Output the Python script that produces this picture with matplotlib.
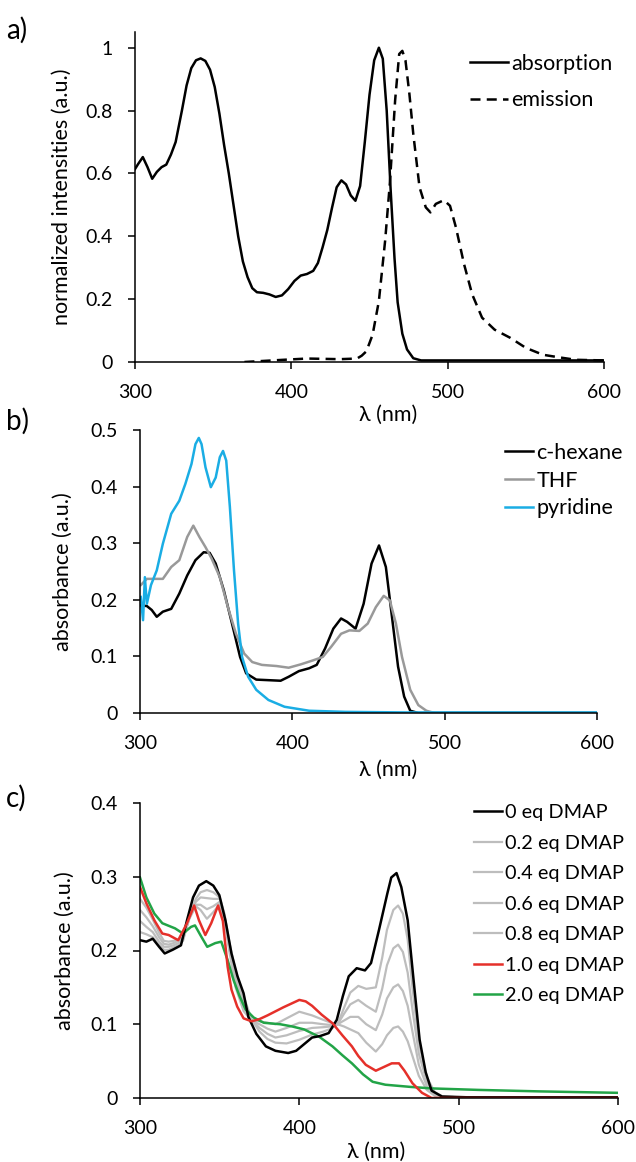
import matplotlib
matplotlib.use("Agg")
import matplotlib.pyplot as plt
from matplotlib.ticker import FuncFormatter

plt.rcParams['font.family'] = ['Lato', 'DejaVu Sans']

# ---- panel a: normalized absorption / emission ----
abs_wl = [300, 302, 305, 308, 311, 314, 317, 320, 323, 326, 330, 333, 336, 339, 342, 345,
          348, 351, 354, 357, 360, 363, 366, 369, 372, 375, 378, 382, 386, 390, 394, 398,
          402, 406, 410, 414, 417, 420, 423, 426, 429, 432, 435, 438, 441, 444, 447, 450,
          453, 456, 458.5, 461, 463.5, 466, 468, 471, 474, 478, 483, 600]
abs_val = [0.614, 0.63, 0.652, 0.62, 0.583, 0.605, 0.62, 0.628, 0.66, 0.70, 0.80, 0.88,
           0.935, 0.96, 0.966, 0.958, 0.93, 0.875, 0.79, 0.69, 0.60, 0.50, 0.40, 0.32,
           0.27, 0.235, 0.222, 0.22, 0.215, 0.207, 0.212, 0.232, 0.258, 0.275, 0.28, 0.29,
           0.315, 0.365, 0.42, 0.49, 0.556, 0.578, 0.565, 0.53, 0.513, 0.56, 0.70, 0.85,
           0.96, 1.0, 0.965, 0.80, 0.55, 0.33, 0.19, 0.09, 0.04, 0.012, 0.005, 0.005]

em_wl = [370, 395, 410, 431, 442, 445, 448, 452, 456, 460, 463, 466.4, 469, 471, 473,
         475.5, 478, 482, 486, 489, 492.4, 497.6, 501.5, 505.3, 510.5, 515.7, 522, 530,
         540, 550, 561, 571, 582, 600]
em_val = [0.0, 0.007, 0.011, 0.009, 0.011, 0.02, 0.034, 0.087, 0.194, 0.386, 0.567, 0.833,
          0.98, 0.99, 0.96, 0.854, 0.726, 0.556, 0.492, 0.476, 0.503, 0.515, 0.497, 0.428,
          0.311, 0.215, 0.141, 0.103, 0.077, 0.045, 0.023, 0.015, 0.007, 0.005]

# ---- panel b: solvents ----
hex_wl = [300.5, 304.5, 307.7, 311, 315, 320.5, 325.8, 331, 336.4, 341.8, 345.7, 349.7,
          355, 360.4, 365.7, 369.7, 376.3, 384.3, 392.3, 397.6, 404.3, 411, 416, 421.5,
          426.9, 432, 436, 441.5, 446.8, 452, 456.9, 461.4, 465.4, 469.4, 473.4, 477.4,
          482.7, 600]
hex_val = [0.19, 0.189, 0.182, 0.17, 0.179, 0.184, 0.211, 0.243, 0.27, 0.284, 0.283, 0.264,
           0.217, 0.158, 0.099, 0.07, 0.059, 0.058, 0.057, 0.064, 0.074, 0.079, 0.085, 0.114,
           0.149, 0.167, 0.161, 0.149, 0.193, 0.264, 0.296, 0.258, 0.17, 0.082, 0.029, 0.004,
           0.0, 0.0]

thf_wl = [300.5, 304.5, 309.8, 315, 320.5, 325.8, 331, 335, 339, 343, 347, 352.4, 357.7,
          363, 368.4, 373.7, 380, 389.6, 397.6, 405.6, 413.6, 420, 425.5, 432, 437.5, 444,
          449.5, 454.8, 460, 464, 468, 472, 477.4, 482.7, 488, 493.4, 600]
thf_val = [0.226, 0.237, 0.237, 0.237, 0.258, 0.27, 0.311, 0.331, 0.311, 0.293, 0.273, 0.24,
           0.187, 0.14, 0.105, 0.09, 0.085, 0.083, 0.08, 0.086, 0.093, 0.099, 0.117, 0.14,
           0.146, 0.145, 0.158, 0.187, 0.207, 0.199, 0.158, 0.099, 0.041, 0.014, 0.004, 0.0,
           0.0]

pyr_wl = [300.5, 302, 303.2, 304.5, 307.2, 311, 315, 320.5, 325.8, 329.8, 333.8, 336.4,
          338.6, 340.4, 343, 346.5, 349.7, 352.4, 354.5, 356.6, 359, 361.7, 364.4, 367, 371,
          376.3, 384.3, 394.9, 411, 434.8, 474.7, 600]
pyr_val = [0.205, 0.164, 0.24, 0.193, 0.226, 0.252, 0.299, 0.352, 0.375, 0.405, 0.44, 0.475,
           0.486, 0.475, 0.434, 0.399, 0.416, 0.452, 0.463, 0.446, 0.364, 0.252, 0.158,
           0.099, 0.064, 0.041, 0.023, 0.011, 0.004, 0.002, 0.001, 0.001]

# ---- panel c: DMAP titration ----
eq0_wl = [300, 304, 308, 312, 315.5, 320.5, 325.7, 329.5, 333.3, 337, 341.6, 346, 349.8,
          353.6, 357.4, 361.2, 365, 368, 373, 379, 385, 393, 398, 403, 408, 413, 418.4,
          423.5, 427.3, 431, 436, 441.2, 445, 450, 455.2, 457.7, 461, 464, 468, 471.7,
          475.5, 479.3, 483, 489.5, 505, 600]
eq0_val = [0.214, 0.212, 0.216, 0.205, 0.196, 0.201, 0.207, 0.241, 0.272, 0.288, 0.294,
           0.288, 0.275, 0.241, 0.196, 0.165, 0.142, 0.11, 0.087, 0.07, 0.064, 0.061, 0.064,
           0.073, 0.082, 0.084, 0.088, 0.106, 0.138, 0.165, 0.176, 0.173, 0.183, 0.228,
           0.277, 0.299, 0.305, 0.286, 0.241, 0.16, 0.079, 0.035, 0.01, 0.002, 0.001, 0.001]

grid_wl = [300, 304, 308, 312, 315, 318, 321, 324, 327, 331, 335, 338, 342, 346, 350, 353,
           356, 360, 365, 370, 375, 380, 385, 392, 400, 408, 415, 420, 424, 428, 432, 437,
           442, 448, 452, 455, 459, 462, 465, 468, 471, 475, 480, 485, 490, 500, 600]
eq02_val = [0.225, 0.222, 0.218, 0.208, 0.201, 0.201, 0.204, 0.207, 0.213, 0.245, 0.270,
            0.279, 0.282, 0.279, 0.272, 0.250, 0.212, 0.172, 0.138, 0.107, 0.090, 0.080,
            0.075, 0.074, 0.079, 0.086, 0.090, 0.094, 0.100, 0.122, 0.143, 0.152, 0.148,
            0.150, 0.190, 0.228, 0.255, 0.261, 0.250, 0.215, 0.150, 0.075, 0.028, 0.008,
            0.002, 0.001, 0.001]
eq04_val = [0.240, 0.232, 0.225, 0.212, 0.205, 0.205, 0.207, 0.210, 0.215, 0.245, 0.266,
            0.272, 0.271, 0.270, 0.270, 0.247, 0.208, 0.165, 0.130, 0.106, 0.095, 0.087,
            0.082, 0.085, 0.091, 0.095, 0.096, 0.097, 0.100, 0.114, 0.127, 0.133, 0.125,
            0.117, 0.148, 0.180, 0.203, 0.208, 0.198, 0.170, 0.120, 0.060, 0.022, 0.006,
            0.002, 0.001, 0.001]
eq06_val = [0.255, 0.245, 0.233, 0.218, 0.209, 0.208, 0.210, 0.213, 0.216, 0.245, 0.262,
            0.262, 0.256, 0.260, 0.266, 0.244, 0.204, 0.158, 0.124, 0.105, 0.100, 0.094,
            0.090, 0.095, 0.102, 0.102, 0.100, 0.099, 0.100, 0.105, 0.110, 0.110, 0.100,
            0.092, 0.113, 0.135, 0.150, 0.154, 0.145, 0.125, 0.090, 0.045, 0.016, 0.004,
            0.001, 0.001, 0.001]
eq08_val = [0.270, 0.258, 0.242, 0.224, 0.213, 0.212, 0.213, 0.215, 0.217, 0.243, 0.260,
            0.255, 0.243, 0.252, 0.263, 0.242, 0.200, 0.150, 0.118, 0.105, 0.104, 0.102,
            0.100, 0.108, 0.117, 0.112, 0.106, 0.102, 0.100, 0.097, 0.093, 0.088, 0.075,
            0.063, 0.073, 0.085, 0.095, 0.097, 0.090, 0.077, 0.057, 0.030, 0.011, 0.003,
            0.001, 0.001, 0.001]

eq10_wl = [300, 304, 309, 314, 318, 324, 329.5, 334, 337, 341, 344.7, 349, 352, 355, 357.4,
           361, 365, 370, 375, 380, 390, 400, 404, 408, 414, 421, 427, 433, 437, 441.7, 448,
           453, 458, 462.5, 466, 471, 477, 483, 600]
eq10_val = [0.286, 0.264, 0.241, 0.223, 0.221, 0.214, 0.237, 0.261, 0.241, 0.221, 0.237,
            0.261, 0.24, 0.178, 0.147, 0.124, 0.108, 0.104, 0.107, 0.112, 0.123, 0.133,
            0.131, 0.125, 0.113, 0.101, 0.085, 0.07, 0.057, 0.045, 0.037, 0.042, 0.047,
            0.047, 0.037, 0.02, 0.007, 0.0, 0.0]

eq20_wl = [300, 304, 309, 314, 322, 327, 332, 334.5, 338.4, 342.2, 347.2, 351, 355, 358.7,
           362.5, 366.3, 371.4, 377.7, 388, 395.5, 403, 412.5, 420.8, 427, 433, 440, 446,
           454, 470, 483, 512, 550, 600]
eq20_val = [0.299, 0.272, 0.25, 0.237, 0.23, 0.223, 0.232, 0.234, 0.219, 0.205, 0.21, 0.212,
            0.187, 0.16, 0.138, 0.12, 0.109, 0.102, 0.1, 0.097, 0.093, 0.083, 0.07, 0.058,
            0.047, 0.032, 0.022, 0.018, 0.015, 0.013, 0.011, 0.009, 0.007]

W, H = 636, 1162
fig = plt.figure(figsize=(W / 100, H / 100), dpi=100)

def box(l, r, top, bot):
    # pixel edges -> figure fraction
    return [l / W, 1 - bot / H, (r - l) / W, (bot - top) / H]

tfs = 14     # tick labels
lfs = 15.5   # axis labels / legend
gfmt = FuncFormatter(lambda v, p: '%g' % round(v, 2))

def style(ax, ymax, yticks, ylabel, ylab_x, xlab_xy):
    ax.patch.set_visible(False)
    ax.set_xlim(300, 600)
    ax.set_ylim(0, ymax)
    ax.set_xticks([300, 400, 500, 600])
    ax.set_yticks(yticks)
    ax.yaxis.set_major_formatter(gfmt)
    for s in ['top', 'right']:
        ax.spines[s].set_visible(False)
    for s in ['left', 'bottom']:
        ax.spines[s].set_linewidth(1.1)
    ax.tick_params(direction='out', length=5, width=1.1, pad=11, labelsize=tfs)
    ax.set_ylabel(ylabel, fontsize=lfs)
    ax.yaxis.set_label_coords(ylab_x, 0.5)
    ax.set_xlabel('λ (nm)', fontsize=lfs)
    ax.xaxis.set_label_coords(*xlab_xy)

leg_kw = dict(loc='upper left', frameon=False, handletextpad=0.15,
              borderpad=0, borderaxespad=0)

# a)
ax1 = fig.add_axes(box(135, 604, 32, 362))
ax1.plot(abs_wl, abs_val, color='black', lw=1.8, label='absorption')
ax1.plot(em_wl, em_val, color='black', lw=1.8, ls=(0, (4, 2.5)), label='emission')
style(ax1, 1.05, [0, 0.2, 0.4, 0.6, 0.8, 1.0], 'normalized intensities (a.u.)',
      -0.134, (0.54, -0.13))
ax1.legend(bbox_to_anchor=(470 / W, 1 - 54 / H), bbox_transform=fig.transFigure,
           fontsize=lfs, handlelength=1.75, labelspacing=0.75, **leg_kw)

# b)
ax2 = fig.add_axes(box(140, 597, 430, 713))
ax2.plot(hex_wl, hex_val, color='black', lw=1.8, label='c-hexane')
ax2.plot(thf_wl, thf_val, color='#999999', lw=1.8, label='THF')
ax2.plot(pyr_wl, pyr_val, color='#1AADE4', lw=1.8, label='pyridine')
style(ax2, 0.5, [0, 0.1, 0.2, 0.3, 0.4, 0.5], 'absorbance (a.u.)', -0.147, (0.543, -0.166))
ax2.legend(bbox_to_anchor=(505 / W, 1 - 443 / H), bbox_transform=fig.transFigure,
           fontsize=lfs, handlelength=1.3, labelspacing=0.36, **leg_kw)

# c)
ax3 = fig.add_axes(box(140, 618, 803, 1098))
gray = '#BDBDBD'
l_08, = ax3.plot(grid_wl, eq08_val, color=gray, lw=1.6, label='0.8 eq DMAP')
l_06, = ax3.plot(grid_wl, eq06_val, color=gray, lw=1.6, label='0.6 eq DMAP')
l_04, = ax3.plot(grid_wl, eq04_val, color=gray, lw=1.6, label='0.4 eq DMAP')
l_02, = ax3.plot(grid_wl, eq02_val, color=gray, lw=1.6, label='0.2 eq DMAP')
l_20, = ax3.plot(eq20_wl, eq20_val, color='#22A447', lw=1.8, label='2.0 eq DMAP')
l_00, = ax3.plot(eq0_wl, eq0_val, color='black', lw=1.8, label='0 eq DMAP')
l_10, = ax3.plot(eq10_wl, eq10_val, color='#E5302A', lw=1.8, label='1.0 eq DMAP')
style(ax3, 0.4, [0, 0.1, 0.2, 0.3, 0.4], 'absorbance (a.u.)', -0.136, (0.494, -0.149))
hs = [l_00, l_02, l_04, l_06, l_08, l_10, l_20]
ax3.legend(hs, [h.get_label() for h in hs],
           bbox_to_anchor=(474 / W, 1 - 804 / H), bbox_transform=fig.transFigure,
           fontsize=14.3, handlelength=1.4, labelspacing=0.68, **leg_kw)

for lab, yp in [('a)', 30), ('b)', 421), ('c)', 798)]:
    fig.text(6 / W, 1 - yp / H, lab, fontsize=20, va='center', ha='left')

fig.savefig('out.png', dpi=100)
